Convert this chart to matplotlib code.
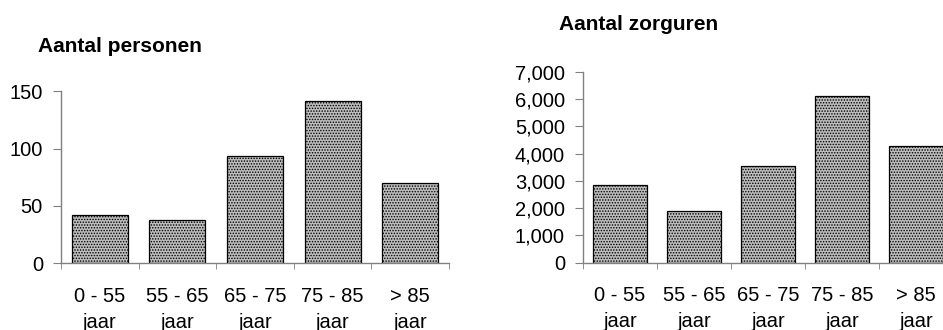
import matplotlib
matplotlib.use("Agg")
import matplotlib.pyplot as plt
import numpy as np

plt.rcParams['font.family'] = ['Liberation Sans', 'DejaVu Sans']
plt.rcParams['hatch.color'] = '#858585'
plt.rcParams['hatch.linewidth'] = 0.7

categories = ["0 - 55\njaar", "55 - 65\njaar", "65 - 75\njaar", "75 - 85\njaar", "> 85\njaar"]
personen = [42, 38, 94, 142, 70]
zorguren = [2850, 1890, 3530, 6100, 4300]

personen_ticks = [0, 50, 100, 150]
zorguren_ticks = [0, 1000, 2000, 3000, 4000, 5000, 6000, 7000]

fig = plt.figure(figsize=(9.43, 3.3), dpi=100)
ax1 = fig.add_axes([0.0647, 0.2021, 0.4115, 0.521])
ax2 = fig.add_axes([0.6182, 0.2040, 0.3924, 0.578])

axis_gray = '#808080'
FS = 14.5


def style(ax, values, ticks, title, title_xy, width):
    x = np.arange(len(values))
    ax.bar(x, values, width=width, facecolor='#bdbdbd', edgecolor='black',
           linewidth=0.9, hatch='......', zorder=2)
    ax.set_xlim(-0.5, len(values) - 0.5)
    ax.set_ylim(ticks[0], ticks[-1])
    ax.set_yticks(ticks)
    ax.set_yticklabels([f"{t:,}" for t in ticks], fontsize=FS)
    ax.set_xticks(x)
    ax.set_xticklabels(categories, fontsize=FS, linespacing=1.45)
    ax.set_xticks(np.arange(len(values) + 1) - 0.5, minor=True)
    ax.tick_params(axis='x', which='major', length=0, pad=17)
    ax.tick_params(axis='x', which='minor', length=4, direction='out', color=axis_gray)
    ax.tick_params(axis='y', length=6, direction='out', color=axis_gray, pad=7)
    for s in ('top', 'right'):
        ax.spines[s].set_visible(False)
    for s in ('left', 'bottom'):
        ax.spines[s].set_color(axis_gray)
        ax.spines[s].set_linewidth(1.0)
    fig.text(title_xy[0], title_xy[1], title, fontsize=15, fontweight='bold',
             ha='left', va='baseline')


style(ax1, personen, personen_ticks, "Aantal personen", (38 / 943, 1 - 52 / 330), 0.72)
style(ax2, zorguren, zorguren_ticks, "Aantal zorguren", (559 / 943, 1 - 30 / 330), 0.73)

fig.savefig("out.png", dpi=100)
